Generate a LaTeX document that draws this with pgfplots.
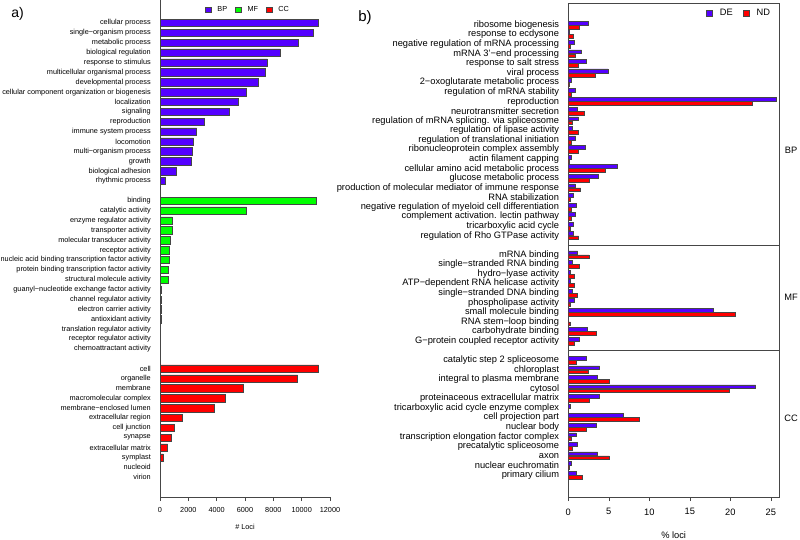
\documentclass[border=0pt]{standalone}
\usepackage{fontspec}
\setmainfont{Liberation Sans}
\usepackage{pgfplots}
\usepackage{pgfplotstable}
\pgfplotsset{compat=1.18}

\definecolor{bpblue}{RGB}{84,0,255}
\definecolor{mfgreen}{RGB}{0,255,0}
\definecolor{ccred}{RGB}{255,0,0}
\definecolor{edge}{RGB}{70,70,70}
\newcommand\fa{\fontsize{7.3}{8}\selectfont}
\newcommand\fb{\fontsize{9.3}{10}\selectfont}

% panel a: number of loci per GO term (row = position from top)
\pgfplotstableread{
row val
0 11200
1 10820
2 9790
3 8470
4 7575
5 7435
6 6940
7 6070
8 5550
9 4890
10 3130
11 2590
12 2350
13 2260
14 2190
15 1130
16 350
}\abp
\pgfplotstableread{
row val
18 11010
19 6120
20 870
21 850
22 730
23 660
24 635
25 565
26 565
27 120
28 70
29 70
30 60
31 50
32 40
33 10
}\amf
\pgfplotstableread{
row val
35 11200
36 9720
37 5905
38 4635
39 3835
40 1575
41 1010
42 825
43 540
44 210
45 50
46 25
}\acc

% panel b: % loci, DE and ND
\pgfplotstableread{
row de nd
0 2.42 1.32
1 0.12 0.66
2 0.70 0.20
3 1.64 0.86
4 2.22 1.27
5 4.89 3.37
6 0.41 0.08
7 0.86 0.33
8 25.70 22.65
9 1.15 2.01
10 1.23 0.53
11 0.53 1.19
12 0.90 0.41
13 2.06 1.23
14 0.41 0.08
15 6.08 4.52
16 3.74 2.55
17 0.82 1.52
18 0.66 0.20
19 0.95 0.41
20 0.86 0.37
21 0.66 0.25
22 0.66 1.27
24 1.15 2.55
25 0.45 1.32
26 0.25 0.78
27 0.25 0.72
28 0.49 1.10
29 0.78 0.25
30 17.90 20.55
31 0.00 0.25
32 2.30 3.41
33 1.40 0.70
35 2.26 1.03
36 3.87 2.51
37 3.54 5.10
38 23.10 19.90
39 3.78 2.55
40 0.29 0.04
41 6.83 8.80
42 3.45 2.22
43 0.95 0.41
44 1.11 0.49
45 3.62 5.06
46 0.41 0.08
47 0.95 1.73
}\bdata

\begin{document}
\begin{tikzpicture}
\useasboundingbox (0,0) rectangle (800pt,-540pt);

\begin{axis}[
  at={(160pt,0pt)}, anchor=north west, scale only axis,
  width=170pt, height=497pt,
  xmin=0, xmax=12000, ymin=-48, ymax=2.33,
  axis x line*=bottom, axis y line*=left,
  axis line style={-, edge, line width=0.6pt},
  xtick={0,2000,4000,6000,8000,10000,12000},
  tick align=outside, major tick length=4pt,
  xtick style={edge, line width=0.6pt},
  ytick={-46,-45,-44,-43,-42,-41,-40,-39,-38,-37,-36,-35,
         -33,-32,-31,-30,-29,-28,-27,-26,-25,-24,-23,-22,-21,-20,-19,-18,
         -16,-15,-14,-13,-12,-11,-10,-9,-8,-7,-6,-5,-4,-3,-2,-1,0},
  yticklabels={virion, nucleoid, symplast, extracellular matrix, synapse, cell junction,
    extracellular region, membrane−enclosed lumen, macromolecular complex, membrane, organelle, cell,
    chemoattractant activity, receptor regulator activity, translation regulator activity,
    antioxidant activity, electron carrier activity, channel regulator activity,
    guanyl−nucleotide exchange factor activity, structural molecule activity,
    protein binding transcription factor activity, nucleic acid binding transcription factor activity,
    receptor activity, molecular transducer activity, transporter activity,
    enzyme regulator activity, catalytic activity, binding,
    rhythmic process, biological adhesion, growth, multi−organism process, locomotion,
    immune system process, reproduction, signaling, localization,
    cellular component organization or biogenesis, developmental process,
    multicellular organismal process, response to stimulus, biological regulation,
    metabolic process, single−organism process, cellular process},
  ytick style={draw=none},
  yticklabel style={font=\fa, inner sep=0pt, xshift=-5pt},
  xticklabel style={font=\fa, yshift=-3pt},
  /pgf/number format/assume math mode=true,
  /pgf/number format/1000 sep={}, scaled x ticks=false,
  xlabel={\# Loci},
  xlabel style={font=\fa, at={(axis description cs:0.5,0)}, anchor=center, yshift=-30pt},
  xbar, bar width=7.3pt, bar shift=0pt,
  every axis plot/.append style={draw=edge, line width=0.5pt},
  legend columns=3,
  legend image code/.code={\draw[#1] (0pt,-2.8pt) rectangle (5.8pt,2.8pt);},
  legend style={draw=none, fill=none, inner sep=0pt, font=\fa,
    at={(axis description cs:0.518,0.98)}, anchor=center,
    /tikz/every odd column/.append style={column sep=4pt},
    /tikz/every even column/.append style={column sep=6pt}},
]
\addplot[fill=bpblue] table[x=val, y expr=-\thisrow{row}] {\abp};
\addlegendentry{BP}
\addplot[fill=mfgreen] table[x=val, y expr=-\thisrow{row}] {\amf};
\addlegendentry{MF}
\addplot[fill=ccred] table[x=val, y expr=-\thisrow{row}] {\acc};
\addlegendentry{CC}
\end{axis}

\begin{axis}[
  at={(568.3pt,-3pt)}, anchor=north west, scale only axis,
  width=210.7pt, height=494pt,
  xmin=0, xmax=26, ymin=-49.3, ymax=2.3,
  axis line style={edge, line width=0.7pt},
  xtick={0,5,10,15,20,25}, xtick pos=left,
  tick align=outside, major tick length=4pt,
  xtick style={edge, line width=0.6pt},
  ytick={-47,-46,-45,-44,-43,-42,-41,-40,-39,-38,-37,-36,-35,
         -33,-32,-31,-30,-29,-28,-27,-26,-25,-24,
         -22,-21,-20,-19,-18,-17,-16,-15,-14,-13,-12,-11,-10,-9,-8,-7,-6,-5,-4,-3,-2,-1,0},
  yticklabels={primary cilium, nuclear euchromatin, axon, precatalytic spliceosome,
    transcription elongation factor complex, nuclear body, cell projection part,
    tricarboxylic acid cycle enzyme complex, proteinaceous extracellular matrix, cytosol,
    integral to plasma membrane, chloroplast, catalytic step 2 spliceosome,
    G−protein coupled receptor activity, carbohydrate binding, RNA stem−loop binding,
    small molecule binding, phospholipase activity, single−stranded DNA binding,
    ATP−dependent RNA helicase activity, hydro−lyase activity, single−stranded RNA binding,
    mRNA binding,
    regulation of Rho GTPase activity, tricarboxylic acid cycle,
    complement activation. lectin pathway, negative regulation of myeloid cell differentiation,
    RNA stabilization, production of molecular mediator of immune response,
    glucose metabolic process, cellular amino acid metabolic process, actin filament capping,
    ribonucleoprotein complex assembly, regulation of translational initiation,
    regulation of lipase activity, regulation of mRNA splicing. via spliceosome,
    neurotransmitter secretion, reproduction, regulation of mRNA stability,
    2−oxoglutarate metabolic process, viral process, response to salt stress,
    mRNA 3'−end processing, negative regulation of mRNA processing,
    response to ecdysone, ribosome biogenesis},
  ytick style={draw=none},
  extra y ticks={-23,-34}, extra y tick labels={},
  extra y tick style={grid=major},
  major grid style={edge, line width=0.7pt},
  yticklabel style={font=\fb, inner sep=0pt, xshift=-5pt},
  xticklabel style={font=\fb, yshift=-4pt},
  /pgf/number format/assume math mode=true,
  xlabel={\% loci},
  xlabel style={font=\fb, at={(axis description cs:0.5,0)}, anchor=center, yshift=-38pt},
  xbar, bar width=3.8pt, bar shift=0pt,
  every axis plot/.append style={draw=edge, line width=0.5pt},
  legend columns=2,
  legend image code/.code={\draw[#1] (0pt,-3pt) rectangle (6.5pt,3pt);},
  legend style={draw=none, fill=none, inner sep=0pt, font=\fb,
    at={(axis description cs:0.81,0.980)}, anchor=center,
    /tikz/every odd column/.append style={column sep=5pt},
    /tikz/every even column/.append style={column sep=8pt}},
]
\addplot[fill=bpblue] table[x=de, y expr=-\thisrow{row}+0.21] {\bdata};
\addlegendentry{DE}
\addplot[fill=ccred] table[x=nd, y expr=-\thisrow{row}-0.21] {\bdata};
\addlegendentry{ND}
\end{axis}

\node[font=\fb] at (791pt,-150pt) {BP};
\node[font=\fb] at (791pt,-297pt) {MF};
\node[font=\fb] at (791pt,-418pt) {CC};
\node[font=\fontsize{14}{16}\selectfont] at (17.5pt,-13.5pt) {a)};
\node[font=\fontsize{15}{17}\selectfont] at (365pt,-17.5pt) {b)};
\end{tikzpicture}
\end{document}
